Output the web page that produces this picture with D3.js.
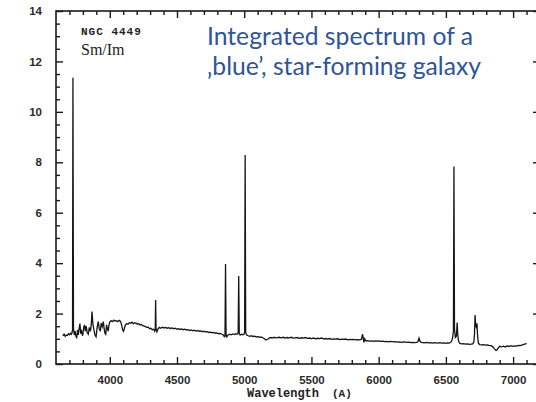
<!DOCTYPE html>
<html><head><meta charset="utf-8">
<script src="https://cdn.jsdelivr.net/npm/d3@7"></script>
<style>
html,body{margin:0;padding:0;background:#fff;}
svg{display:block;}
</style></head>
<body>
<svg id="c" width="536" height="402"></svg>
<script>
// ---- data ----
const wavelength = [
3650,3660,3668,3676,3684,3692,3700,3708,3714,3718,3723,3726,3730,3736,
3742,3748,3754,3760,3766,3772,3778,3784,3790,3798,3806,3812,3818,3824,3832,3840,3848,3856,3862,3868,3874,3882,3890,3898,3906,3914,3922,3930,3936,3944,3952,3958,3964,3970,3976,3982,3988,3994,
4000,4010,4020,4030,4040,4050,4060,4070,4080,4088,4096,4102,4108,4116,4126,4136,4146,4156,4166,4176,4186,4196,4206,4216,4226,4236,4246,4256,4266,4276,4286,4296,4306,4316,4326,4334,4338,4341,4344,4350,4358,4368,4378,4390,4402,4414,4426,4438,4450,4462,4474,4486,4498,4510,4522,4534,4546,4558,4570,4582,4594,4606,4618,4630,4642,4654,4666,4678,4690,4702,4714,4726,4738,4750,4762,4774,4786,4798,4810,4822,4834,4844,4852,4857,4861,4865,4870,4878,4890,4902,4914,4926,4938,4948,4955,4959,4963,4970,4980,4990,4998,5003,5007,5011,5018,5030,5042,5054,5066,5078,5090,5102,5114,5126,5138,5150,5162,5174,5186,5198,5210,5222,5234,5246,5260,5275,5290,5305,5320,5335,5350,5365,5380,5395,5410,5425,5440,5455,5470,5485,5500,5515,5530,5545,5560,5575,5590,5605,5620,5635,5650,5665,5680,5695,5710,5725,5740,5755,5770,5785,5800,5815,5830,5845,5860,5872,5880,5885,5890,5896,5904,5918,5932,5946,5960,5974,5988,6002,6016,6030,6044,6058,6072,6086,6100,6114,6128,6142,6156,6170,6184,6198,6212,6226,6240,6254,6268,6282,6292,6300,6306,6316,6330,6344,6358,6372,6386,6400,6414,6428,6442,6456,6470,6484,6498,6512,6524,6536,6544,6550,6556,6560,6564,6570,6578,6584,6588,6594,6604,6618,6632,6646,6660,6674,6688,6700,6708,6713,6717,6722,6727,6731,6736,6742,6752,6766,6780,6794,6808,6822,6836,6850,6862,6872,6880,6890,6900,6914,6928,6942,6956,6970,6984,6998,7012,7026,7040,7054,7068,7080,7092,7100];
const flux = [
1.12,1.18,1.10,1.15,1.13,1.20,1.16,1.22,1.18,1.22,1.35,11.35,1.40,1.15,
1.30,1.10,1.05,1.35,1.15,1.40,1.60,1.20,1.30,1.12,1.45,1.55,1.30,1.50,1.25,1.18,1.45,1.30,1.55,2.08,1.60,1.35,1.15,1.08,1.45,1.68,1.40,1.30,1.62,1.48,1.68,1.40,1.22,1.18,1.55,1.40,1.30,1.55,
1.66,1.72,1.68,1.74,1.70,1.72,1.68,1.73,1.69,1.55,1.35,1.30,1.40,1.55,1.60,1.58,1.64,1.62,1.66,1.60,1.63,1.62,1.58,1.60,1.55,1.57,1.52,1.50,1.48,1.45,1.46,1.40,1.42,1.36,1.38,1.30,1.35,2.54,1.40,1.28,1.38,1.45,1.42,1.46,1.43,1.45,1.42,1.44,1.41,1.43,1.40,1.42,1.38,1.40,1.37,1.39,1.36,1.38,1.35,1.36,1.33,1.35,1.32,1.34,1.31,1.32,1.30,1.31,1.28,1.30,1.27,1.28,1.25,1.26,1.24,1.25,1.22,1.23,1.20,1.21,1.18,1.15,1.08,1.10,3.97,1.15,1.08,1.14,1.18,1.16,1.19,1.17,1.20,1.18,1.22,3.49,1.22,1.15,1.18,1.16,1.18,1.25,8.29,1.25,1.15,1.12,1.10,1.12,1.09,1.10,1.07,1.09,1.06,1.07,1.04,1.00,0.95,0.98,1.03,1.05,1.03,1.06,1.04,1.05,1.06,1.04,1.06,1.03,1.05,1.04,1.06,1.03,1.04,1.05,1.02,1.04,1.03,1.05,1.02,1.03,1.01,1.03,1.00,1.02,1.01,1.03,1.00,1.01,0.99,1.01,0.98,1.00,0.99,1.00,0.97,0.99,0.98,0.99,0.96,0.98,0.97,0.98,0.96,0.97,0.96,0.98,1.18,1.05,0.86,1.00,0.92,0.93,0.91,0.92,0.90,0.92,0.91,0.92,0.90,0.91,0.89,0.90,0.88,0.90,0.89,0.88,0.89,0.87,0.88,0.86,0.88,0.87,0.86,0.87,0.85,0.86,0.85,0.86,0.88,1.02,0.92,0.86,0.85,0.84,0.86,0.84,0.85,0.83,0.85,0.84,0.83,0.85,0.83,0.84,0.82,0.84,0.83,0.86,0.92,1.05,1.30,7.83,1.40,1.05,1.10,1.64,1.20,0.90,0.82,0.80,0.81,0.79,0.80,0.78,0.79,0.80,0.88,1.20,1.94,1.50,1.45,1.61,1.10,0.82,0.77,0.76,0.77,0.75,0.76,0.74,0.73,0.68,0.60,0.54,0.56,0.64,0.70,0.68,0.71,0.67,0.72,0.69,0.73,0.70,0.72,0.71,0.74,0.73,0.76,0.78,0.80,0.82];
const xMajorTicks = [4000,4500,5000,5500,6000,6500,7000];
const xTickLabels = ["4000","4500","5000","5500","6000","6500","7000"];
const yMajorTicks = [0,2,4,6,8,10,12,14];
const yTickLabels = ["0","2","4","6","8","10","12","14"];
const xLabel = "Wavelength";
const xUnit = "(A)";
const objectName = "NGC 4449";
const objectType = "Sm/Im";
const titleLines = ["Integrated spectrum of a", "\u201Ablue\u2019, star-forming galaxy"];

// ---- layout ----
const svg = d3.select("#c");
const L = 56, R = 540, T = 11, B = 364;
const x = d3.scaleLinear().domain([3600, 7200]).range([L, R]);
const y = d3.scaleLinear().domain([0, 14]).range([B, T]);
const ink = "#1a1a1a";

const xMinor = d3.range(3700, 7200, 100).filter(v => v % 500 !== 0);
const yMinor = d3.range(0.5, 14, 0.5).filter(v => v % 2 !== 0);

function styleAxis(g){
  g.select(".domain").remove();
  g.selectAll(".tick line").attr("stroke", ink).attr("stroke-width", 1.4);
  g.selectAll("text").attr("fill", "#2a2a2a").attr("font-family", "Liberation Sans, Arial, sans-serif")
   .attr("font-size", 11.5).attr("font-weight", "bold");
}
// bottom
svg.append("g").attr("transform", `translate(0,${B})`)
  .call(d3.axisBottom(x).tickValues(xMinor).tickSize(-4).tickFormat("")).call(styleAxis);
svg.append("g").attr("transform", `translate(0,${B})`)
  .call(d3.axisBottom(x).tickValues(xMajorTicks).tickSize(-7).tickPadding(12)
    .tickFormat((d,i) => xTickLabels[i])).call(styleAxis);
// top
svg.append("g").attr("transform", `translate(0,${T})`)
  .call(d3.axisTop(x).tickValues(xMinor).tickSize(-4).tickFormat("")).call(styleAxis);
svg.append("g").attr("transform", `translate(0,${T})`)
  .call(d3.axisTop(x).tickValues(xMajorTicks).tickSize(-7).tickFormat("")).call(styleAxis);
// left
svg.append("g").attr("transform", `translate(${L},0)`)
  .call(d3.axisLeft(y).tickValues(yMinor).tickSize(-4).tickFormat("")).call(styleAxis);
svg.append("g").attr("transform", `translate(${L},0)`)
  .call(d3.axisLeft(y).tickValues(yMajorTicks).tickSize(-7).tickPadding(14)
    .tickFormat((d,i) => yTickLabels[i])).call(styleAxis);
// right
svg.append("g").attr("transform", `translate(${R},0)`)
  .call(d3.axisRight(y).tickValues(yMinor).tickSize(-4).tickFormat("")).call(styleAxis);
svg.append("g").attr("transform", `translate(${R},0)`)
  .call(d3.axisRight(y).tickValues(yMajorTicks).tickSize(-7).tickFormat("")).call(styleAxis);

// frame
svg.append("rect").attr("x", L).attr("y", T).attr("width", R - L).attr("height", B - T)
  .attr("fill", "none").attr("stroke", ink).attr("stroke-width", 1.6);

// spectrum
const pts = wavelength.map((w, i) => [w, flux[i]]);
svg.append("path").datum(pts)
  .attr("d", d3.line().x(d => x(d[0])).y(d => y(d[1])))
  .attr("fill", "none").attr("stroke", "#151515").attr("stroke-width", 1.3)
  .attr("stroke-linejoin", "miter");

// axis label
svg.append("text").attr("x", 247).attr("y", 397).text(xLabel)
  .attr("font-family", "Liberation Mono, Courier New, monospace").attr("font-weight", "bold")
  .attr("font-size", 12).attr("fill", "#222");
svg.append("text").attr("x", 332).attr("y", 397).text(xUnit)
  .attr("font-family", "Liberation Mono, Courier New, monospace").attr("font-weight", "bold")
  .attr("font-size", 11).attr("fill", "#222");

// object labels
svg.append("text").attr("x", 81).attr("y", 35).text(objectName)
  .attr("font-family", "Liberation Mono, Courier New, monospace").attr("font-weight", "bold")
  .attr("font-size", 11).attr("letter-spacing", 1.0).attr("fill", "#222");
svg.append("text").attr("x", 81).attr("y", 55).text(objectType)
  .attr("font-family", "Liberation Serif, Times New Roman, serif")
  .attr("font-size", 16).attr("fill", "#222");

// title
const tt = svg.append("g");
titleLines.forEach((s, i) => {
  tt.append("text").attr("x", 207).attr("y", 45 + i * 30).text(s)
    .attr("font-family", "Lato, Open Sans, sans-serif").attr("font-size", 22)
    .attr("fill", "#2f5597");
});
// fit first line to observed width (~266px)
const t0 = tt.select("text").node();
const w0 = t0.getComputedTextLength();
const fs = 22 * 266 / w0;
tt.selectAll("text").attr("font-size", fs);
</script>
</body></html>
